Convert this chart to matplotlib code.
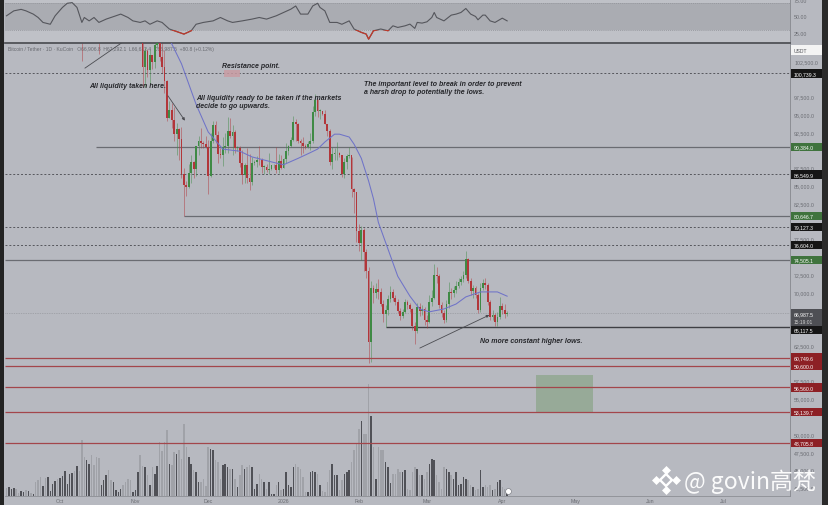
import numpy as np
import pandas as pd
import matplotlib
matplotlib.use("Agg")
import matplotlib.pyplot as plt
import matplotlib.dates as mdates
from matplotlib.patches import Rectangle
from matplotlib.transforms import blended_transform_factory as blend

# ---------------- DATA (prices in thousands of USDT) ----------------
first_day = "2025-09-09"
# closes start one day earlier (2025-09-08) so each candle opens at the previous close
closes = [
    112.1, 111.5, 113.9, 115.5, 116.1, 115.9, 115.3, 115.4, 116.8, 116.5, 117.1, 115.7,
    115.7, 115.3, 112.7, 112.0, 113.3, 109.0, 109.7, 109.7, 112.1, 114.4, 114.0,
    118.6, 120.6, 122.3, 122.4, 123.5, 124.7, 121.4, 123.3, 121.7, 113.2, 110.7, 115.2,
    115.3, 113.1, 110.8, 108.2, 106.5, 107.2, 108.6, 110.6, 108.4, 107.6, 110.1, 111.0,
    111.6, 114.5, 114.1, 112.9, 110.0, 108.3, 109.6,
    110.1, 110.6, 106.5, 101.6, 103.9, 101.3, 103.3, 102.3, 104.7, 106.0, 103.0, 101.6,
    99.7, 94.5, 95.6, 94.2, 92.2, 92.9, 91.5, 86.6, 85.1, 84.7, 86.8, 88.3, 87.3, 90.5,
    91.3, 90.9, 90.8, 90.4,
    86.3, 91.3, 93.5, 92.1, 89.4, 89.3, 90.4, 90.6, 92.7, 92.0, 92.5, 90.3, 90.3, 88.2,
    86.4, 87.8, 86.1, 85.5, 88.1, 88.3, 88.6, 88.5, 87.6, 87.6, 87.2, 87.3, 87.8, 87.8,
    87.1, 88.4, 87.5,
    88.7, 89.9, 90.6, 91.4, 93.9, 93.7, 91.3, 91.0, 90.5, 90.4, 90.8, 91.2, 95.3, 97.0,
    95.5, 95.5, 95.1, 93.6, 92.6, 88.3, 89.4, 89.5, 89.5, 89.2, 86.6, 88.3, 89.1, 89.2,
    84.5, 84.1, 78.6,
    76.9, 78.7, 75.6, 73.0, 62.9, 70.5, 69.8, 70.4, 70.0, 68.3, 66.9, 67.4, 69.0, 70.0,
    69.2, 68.6, 67.3, 66.6, 67.2, 68.6, 68.1, 67.6, 65.2, 64.5, 67.9, 67.3, 67.6, 66.0,
    65.8, 68.6, 69.2, 72.4, 72.2, 68.2, 67.0, 66.0, 68.3, 70.0, 69.8, 70.3, 70.8, 71.4,
    71.8, 72.4, 74.6, 71.6, 70.1, 70.5, 69.6, 67.4, 70.6, 71.3, 71.0, 68.6, 66.5, 66.8,
    65.7, 66.5, 68.0,
    67.5, 66.9068, 66.9875,
]
highs = [
    113.2, 114.3, 115.6, 116.3, 116.7, 116.1, 116.8, 117.0, 117.3, 117.9, 117.5, 116.2,
    116.0, 115.5, 113.3, 113.8, 113.6, 110.0, 109.8, 112.4, 114.5, 114.8,
    118.7, 121.0, 123.9, 122.9, 125.7, 126.2, 125.1, 124.1, 123.8, 122.5, 113.4, 115.9,
    116.0, 115.0, 113.6, 111.9, 109.0, 107.5, 109.4, 111.7, 114.0, 109.1, 111.3, 112.0,
    111.9, 115.2, 116.4, 116.0, 113.6, 111.5, 111.2,
    110.6, 111.2, 110.8, 106.6, 104.5, 104.2, 104.0, 103.4, 105.0, 106.7, 107.5, 105.3,
    104.1, 99.8, 96.8, 96.6, 96.0, 93.8, 93.1, 93.2, 87.5, 85.6, 88.0, 89.2, 88.4, 90.6,
    91.9, 93.1, 91.2, 92.0,
    91.4, 92.3, 94.1, 94.0, 92.7, 90.3, 91.8, 92.3, 94.6, 94.5, 93.5, 92.8, 90.6, 90.5,
    90.0, 88.1, 90.3, 89.4, 89.0, 88.5, 89.1, 90.5, 88.9, 87.9, 88.0, 89.5, 87.9, 88.0,
    90.4, 89.4, 89.2,
    88.8, 90.9, 90.7, 91.8, 94.8, 94.4, 93.8, 91.5, 91.8, 90.8, 91.2, 92.4, 96.2, 97.9,
    97.2, 95.8, 95.5, 95.6, 93.6, 92.9, 90.4, 90.3, 91.1, 89.7, 89.2, 88.8, 89.4, 90.4,
    89.0, 84.6, 84.0,
    79.5, 79.3, 79.0, 76.0, 73.5, 71.6, 71.0, 71.3, 71.8, 70.5, 68.8, 68.2, 69.5, 70.8,
    70.4, 69.6, 69.0, 67.8, 67.6, 69.0, 68.9, 68.4, 67.8, 65.8, 68.5, 68.4, 68.2, 67.9,
    66.8, 69.6, 70.2, 73.9, 73.5, 72.5, 68.6, 67.4, 68.8, 71.4, 70.6, 70.8, 71.5, 71.9,
    72.3, 73.0, 75.8, 74.8, 71.9, 71.0, 70.9, 69.8, 71.2, 71.8, 71.9, 71.2, 68.9, 67.4,
    67.0, 67.2, 69.3,
    68.5, 68.3, 67.2921,
]
lows = [
    110.8, 110.9, 113.5, 114.8, 115.5, 115.1, 114.9, 114.8, 115.1, 116.3, 115.3, 115.4,
    115.0, 112.0, 111.5, 111.1, 108.6, 108.6, 109.0, 109.6, 111.8, 112.7,
    114.0, 118.0, 119.3, 121.6, 122.2, 123.1, 120.6, 121.1, 119.7, 102.5, 109.6, 109.7,
    113.9, 110.1, 110.2, 107.4, 103.5, 106.3, 106.1, 107.5, 107.5, 106.9, 107.5, 109.7,
    110.5, 111.2, 113.8, 112.3, 109.4, 106.3, 108.1,
    109.4, 109.2, 105.3, 98.9, 98.9, 100.3, 99.3, 101.4, 101.5, 104.3, 102.5, 100.8,
    98.0, 94.0, 94.5, 93.0, 91.2, 89.3, 88.6, 86.1, 80.6467, 83.5, 84.6, 85.3, 86.1, 86.3,
    89.2, 90.2, 90.3, 90.3,
    83.8, 86.2, 91.0, 90.9, 88.1, 88.9, 87.7, 89.6, 89.5, 91.6, 89.3, 89.5, 89.8, 87.6,
    85.2, 85.3, 85.3, 84.4, 85.1, 87.8, 87.6, 87.9, 86.7, 86.6, 86.9, 86.6, 87.2, 87.4,
    86.7, 86.8, 87.3,
    87.4, 88.2, 89.3, 90.4, 91.3, 91.2, 90.9, 89.3, 89.5, 90.1, 90.2, 90.0, 91.0, 94.8,
    94.6, 94.3, 94.9, 93.6, 91.9, 87.9, 87.3, 88.5, 88.5, 89.0, 86.2, 86.1, 87.3, 88.9,
    83.4, 81.1, 77.0,
    75.7, 74.5, 73.0, 72.0, 60.0, 60.2, 68.5, 69.2, 69.0, 68.0, 65.8, 65.1, 66.8, 68.6,
    68.7, 68.2, 67.0, 66.1, 66.3, 67.0, 67.6, 67.2, 64.6, 62.7, 64.2, 66.6, 66.8, 65.3,
    64.9, 65.6, 68.0, 69.0, 71.2, 67.8, 66.5, 65.6, 65.8, 67.8, 69.0, 69.3, 69.9, 70.5,
    71.0, 71.4, 72.0, 71.2, 69.6, 69.2, 69.2, 67.0, 67.2, 70.3, 70.4, 68.2, 66.0, 66.1,
    65.2, 65.2, 66.2,
    66.9, 66.4, 66.6,
]
volumes = [
    8, 9, 7, 8, 7, 3, 5, 4, 6, 5, 3, 2, 14, 16, 19, 10, 18, 19, 5, 12, 15, 17,
    18, 20, 25, 12, 22, 23, 25, 30, 25, 56, 39, 36, 32, 41, 31, 39, 38, 11, 16, 21,
    26, 16, 14, 6, 4, 7, 11, 14, 17, 16, 4,
    6, 24, 41, 30, 29, 21, 11, 29, 22, 30, 54, 45, 54, 66, 32, 31, 44, 42, 46, 37,
    72, 49, 39, 32, 26, 24, 14, 14, 17, 10,
    49, 47, 46, 36, 34, 17, 31, 32, 29, 27, 27, 17, 9, 21, 31, 27, 29, 31, 29, 7,
    12, 22, 17, 14, 7, 14, 2, 2, 11, 14, 6,
    7, 24, 11, 9, 29, 32, 29, 27, 19, 4, 4, 24, 25, 24, 22, 11, 5, 4, 14, 26, 32,
    21, 21, 6, 16, 22, 24, 26, 34, 46, 52,
    67, 75, 62, 62, 112, 80, 49, 17, 49, 46, 46, 34, 29, 13, 22, 22, 27, 24, 24, 26,
    7, 6, 24, 29, 27, 21, 21, 17,
    24, 32, 37, 36, 21, 14, 7, 29, 27, 24, 21, 17, 24, 11, 12, 19, 17, 16, 11, 9,
    6, 7, 26, 9, 11, 9, 11, 6, 7, 14, 16,
    9, 7, 6,
]
ma_dates = ["2025-11-13", "2025-11-20", "2025-11-26", "2025-12-01", "2025-12-07",
            "2025-12-14", "2025-12-19", "2025-12-27", "2026-01-01", "2026-01-07",
            "2026-01-12", "2026-01-15", "2026-01-18", "2026-01-22", "2026-01-24",
            "2026-01-28", "2026-01-30", "2026-02-02", "2026-02-05", "2026-02-07",
            "2026-02-09", "2026-02-13", "2026-02-17", "2026-02-22", "2026-02-26",
            "2026-03-02", "2026-03-08", "2026-03-13", "2026-03-17", "2026-03-23",
            "2026-03-30", "2026-04-03"]
ma_vals = [107.0, 102.1, 96.4, 92.5, 90.1, 89.8, 89.0, 88.3, 87.9, 88.8, 89.6, 90.1,
           91.1, 92.2, 92.2, 91.8, 90.8, 88.8, 85.6, 83.1, 79.8, 76.0, 72.2, 69.4,
           67.6, 67.2, 67.6, 68.3, 69.3, 70.0, 70.0, 69.4]
rsi_dates = ["2025-09-09", "2025-09-12", "2025-09-15", "2025-09-17", "2025-09-20",
             "2025-09-22", "2025-09-24", "2025-09-27", "2025-09-29", "2025-10-02",
             "2025-10-04", "2025-10-06", "2025-10-08", "2025-10-10", "2025-10-11",
             "2025-10-13", "2025-10-15", "2025-10-17", "2025-10-20", "2025-10-24",
             "2025-10-26", "2025-10-29", "2025-10-31", "2025-11-03", "2025-11-05",
             "2025-11-07", "2025-11-10", "2025-11-12", "2025-11-15", "2025-11-19",
             "2025-11-21", "2025-11-24", "2025-11-26", "2025-11-29", "2025-12-03",
             "2025-12-06", "2025-12-09", "2025-12-11", "2025-12-15", "2025-12-19",
             "2025-12-22", "2025-12-25", "2025-12-29", "2026-01-01", "2026-01-04",
             "2026-01-06", "2026-01-08", "2026-01-11", "2026-01-13", "2026-01-15",
             "2026-01-16", "2026-01-18", "2026-01-20", "2026-01-23", "2026-01-25",
             "2026-01-28", "2026-01-30", "2026-02-02", "2026-02-04", "2026-02-05",
             "2026-02-07", "2026-02-10", "2026-02-13", "2026-02-15", "2026-02-17",
             "2026-02-20", "2026-02-22", "2026-02-24", "2026-02-25", "2026-02-27",
             "2026-03-01", "2026-03-03", "2026-03-04", "2026-03-05", "2026-03-08",
             "2026-03-11", "2026-03-13", "2026-03-15", "2026-03-17", "2026-03-19",
             "2026-03-21", "2026-03-22", "2026-03-24", "2026-03-25", "2026-03-27",
             "2026-03-29", "2026-04-01", "2026-04-03"]
rsi_vals = [50.5, 57.8, 60.0, 57.8, 53.0, 48.0, 40.7, 38.0, 50.5, 62.8, 69.0, 70.0,
            62.8, 40.7, 48.0, 43.0, 48.0, 40.7, 45.6, 50.5, 53.0, 48.0, 43.0, 40.7,
            43.0, 38.0, 43.0, 40.7, 31.0, 26.0, 23.5, 28.4, 38.0, 40.7, 43.0, 48.0,
            43.0, 40.7, 43.0, 45.6, 48.0, 45.6, 50.5, 55.4, 60.3, 65.0, 53.0, 53.0,
            65.0, 69.0, 62.8, 57.8, 40.7, 40.7, 38.0, 43.0, 31.0, 26.0, 23.5, 16.0,
            28.4, 31.0, 28.4, 35.7, 33.3,
            35.7, 38.2, 31.9, 40.7, 39.7,
            41.6, 48.0, 55.4, 48.0, 43.0,
            51.5, 53.0, 55.4, 61.3, 53.0,
            49.5, 44.6, 51.5, 51.5, 43.0,
            40.7, 47.0, 43.0]

level_prices = [100739.3, 90384.0, 86549.9, 80646.7, 79127.3, 76604.0, 74505.1,
                66987.5, 65117.5, 60749.6, 59600.0, 56560.0, 53139.7, 48705.8]
level_styles = ["dash", "solid", "dash", "solid", "dash", "dash", "solid",
                "dot", "black", "red", "red", "red", "red", "red"]
level_starts = {90384.0: "2025-10-16", 80646.7: "2025-11-21", 65117.5: "2026-02-12"}
level_box = ["k", "g", "k", "g", "k", "k", "g", "grey", "k", "r", "r", "r", "r", "r"]

month_starts = ["2025-10-01", "2025-11-01", "2025-12-01", "2026-01-01", "2026-02-01",
                "2026-03-01", "2026-04-01", "2026-05-01", "2026-06-01", "2026-07-01"]
month_labels = ["Oct", "Nov", "Dec", "2026", "Feb", "Mar", "Apr", "May", "Jun", "Jul"]

# ---------------- STYLE ----------------
BG = "#b7b9c0"
UP = "#3f8a45"
DOWN = "#b2363a"
TXT = "#6a6c72"
W, H = 829, 506


def fr(x0, y0, x1, y1):
    return [x0 / W, 1 - y1 / H, (x1 - x0) / W, (y1 - y0) / H]


fig = plt.figure(figsize=(8.29, 5.06), dpi=100)
fig.patch.set_facecolor(BG)

ax_rsi = fig.add_axes(fr(5, 0, 790, 43))
ax_vol = fig.add_axes(fr(5, 44, 790, 497))
ax = fig.add_axes(fr(5, 44, 790, 497))
ax.patch.set_visible(False)
ax_vol.patch.set_facecolor(BG)

oct1 = mdates.date2num(pd.Timestamp("2025-10-01"))
xlim = (oct1 - 22.63, oct1 + 300.4)
ylim = (41280, 105030)

n = min(len(highs), len(lows), len(closes) - 1, len(volumes))
dates = pd.date_range(first_day, periods=n, freq="D")
x = mdates.date2num(dates)
c_arr = np.array(closes[1:n + 1]) * 1000
o_arr = np.array(closes[:n]) * 1000
h_arr = np.array(highs[:n]) * 1000
l_arr = np.array(lows[:n]) * 1000
up = c_arr >= o_arr
cols = np.where(up, UP, DOWN)

# ---- volume ----
vcols = np.where(up, "#505157", "#a0a2a8")
ax_vol.bar(x, volumes[:n], width=0.62, color=vcols, linewidth=0)
ax_vol.set_xlim(*xlim)
ax_vol.set_ylim(0, max(volumes) * 453 / 112)
ax_vol.axis("off")
ax_vol.patch.set_visible(True)

# ---- candles ----
ax.vlines(x, l_arr, h_arr, colors=cols, linewidth=0.55, alpha=0.6, zorder=2)
body_lo = np.minimum(o_arr, c_arr)
body_h = np.maximum(np.abs(c_arr - o_arr), 60)
ax.bar(x, body_h, bottom=body_lo, width=0.72, color=cols, linewidth=0, zorder=3)

# moving average
ax.plot(mdates.date2num(pd.to_datetime(ma_dates)), np.array(ma_vals) * 1000,
        color="#6f73c8", lw=0.75, zorder=4)

# ---- horizontal levels ----
for p, st in zip(level_prices, level_styles):
    xs = mdates.date2num(pd.Timestamp(level_starts[p])) if p in level_starts else xlim[0]
    if st == "dash":
        ax.hlines(p, xs, xlim[1], colors="#55565c", lw=0.7, linestyles=(0, (2, 2)), zorder=1.5)
    elif st == "solid":
        ax.hlines(p, xs, xlim[1], colors="#6a6c72", lw=0.9, zorder=1.5)
    elif st == "dot":
        ax.hlines(p, xs, xlim[1], colors="#8a8c92", lw=0.5, linestyles=(0, (1, 1.5)), zorder=1.5)
    elif st == "black":
        ax.hlines(p, xs, xlim[1], colors="#3e3f44", lw=1.0, zorder=1.5)
    else:
        ax.hlines(p, xs, xlim[1], colors="#a3464b", lw=0.9, zorder=5)

# zones
d = lambda s: mdates.date2num(pd.Timestamp(s))
ax.add_patch(Rectangle((d("2025-12-07 12:00"), 100230), d("2025-12-14") - d("2025-12-07 12:00"),
                       1000, facecolor="#c99ca3", edgecolor="none", alpha=0.85, zorder=1.6))
ax.add_patch(Rectangle((d("2026-04-14 22:00"), 53139.7), d("2026-05-08 07:00") - d("2026-04-14 22:00"),
                       58300 - 53139.7, facecolor="#7d9f78", edgecolor="none", alpha=0.55, zorder=1.6))

# drawn lines / arrows
ax.plot([d("2025-10-11 07:00"), d("2025-10-27")], [101500, 105200], color="#4b4c51", lw=0.6, zorder=4)
ax.annotate("", xy=(d("2025-11-21 10:00"), 94100), xytext=(d("2025-11-14 10:00"), 97600),
            arrowprops=dict(arrowstyle="-|>", color="#4b4c51", lw=0.6, mutation_scale=4,
                            shrinkA=0, shrinkB=0), zorder=6)
ax.annotate("", xy=(d("2026-03-26 16:00"), 66750), xytext=(d("2026-02-26 02:00"), 62100),
            arrowprops=dict(arrowstyle="-|>", color="#4b4c51", lw=0.6, mutation_scale=4,
                            shrinkA=0, shrinkB=0), zorder=6)

ax.set_xlim(*xlim)
ax.set_ylim(*ylim)
kpp = (ylim[1] - ylim[0]) / 453.0
yt = np.arange(42500, 105000, 2500)
box_centres = [p for p in level_prices if p not in (66987.5, 65117.5)] + [64640]
grey_span = (65200, 67700)


def tick_text(v):
    if any(abs(v - bc) < 6.0 * kpp for bc in box_centres):
        return ""
    if grey_span[0] <= v <= grey_span[1]:
        return ""
    return f"{v:,.1f}"


ax.set_yticks(yt)
ax.set_yticklabels([tick_text(v) for v in yt])
ax.yaxis.tick_right()
ax.tick_params(axis="y", length=0, pad=3, labelsize=3.8, labelcolor=TXT)
ax.set_xticks(mdates.date2num(pd.to_datetime(month_starts)))
ax.set_xticklabels(month_labels)
ax.tick_params(axis="x", length=0, pad=1.2, labelsize=3.8, labelcolor=TXT)
for lab in ax.get_xticklabels() + ax.get_yticklabels():
    lab.set_family("Liberation Sans")
ax.spines["left"].set_visible(False)
ax.spines["top"].set_color("#505257")
ax.spines["top"].set_linewidth(1.3)
ax.spines["right"].set_color("#8c8e94")
ax.spines["right"].set_linewidth(0.7)
ax.spines["bottom"].set_color("#8c8e94")
ax.spines["bottom"].set_linewidth(0.6)

# ---- price labels on the right ----
bt = blend(ax.transAxes, ax.transData)
box_col = {"k": "#151515", "g": "#3f733d", "r": "#8d2025", "grey": "#4e4f54"}
bx0, bw = 1 + 1.5 / 785, 31 / 785
for p, kind in zip(level_prices, level_box):
    if kind == "grey":
        top = p + 4 * kpp
        ax.add_patch(Rectangle((bx0, top - 17 * kpp), bw, 17 * kpp, transform=bt,
                               facecolor=box_col[kind], lw=0, clip_on=False, zorder=7))
        ax.text(bx0 + 2 / 785, p, f"{p:,.1f}", transform=bt, color="white", fontsize=3.7,
                va="center", ha="left", family="Liberation Sans", clip_on=False, zorder=8)
        ax.text(bx0 + 2 / 785, p - 8 * kpp, "15:19:01", transform=bt, color="#d0d0d0",
                fontsize=3.5, va="center", ha="left", family="Liberation Sans", clip_on=False, zorder=8)
        continue
    yc = p - 3.4 * kpp if p == 65117.5 else p
    ax.add_patch(Rectangle((bx0, yc - 4.2 * kpp), bw, 8.4 * kpp, transform=bt,
                           facecolor=box_col[kind], lw=0, clip_on=False, zorder=7))
    ax.text(bx0 + 2 / 785, yc, f"{p:,.1f}", transform=bt, color="white", fontsize=3.7,
            va="center", ha="left", family="Liberation Sans", clip_on=False, zorder=8)
# USDT box
ax.add_patch(Rectangle((bx0, 102500 + 6 * kpp), bw, 9.5 * kpp, transform=bt,
                       facecolor="#f4f4f4", lw=0, clip_on=False, zorder=7))
ax.text(bx0 + 2 / 785, 102500 + 10.6 * kpp, "USDT", transform=bt, color="#55565b",
        fontsize=3.6, va="center", ha="left", family="Liberation Sans", clip_on=False, zorder=8)

# header legend text
ax.text(8 / W, 1 - 50 / H, "Bitcoin / Tether · 1D · KuCoin   O66,906.8  H67,292.1  L66,612.4  "
        "C66,987.5  +80.8 (+0.12%)", transform=fig.transFigure, fontsize=3.6, color="#686a70",
        va="center", ha="left", family="Liberation Sans", zorder=0.5)

# ---- RSI pane ----
ax_rsi.set_facecolor("#bfc1c7")
ax_rsi.axhspan(30, 70, color="#aaacb2", lw=0)
for lv in (30, 70):
    ax_rsi.axhline(lv, color="#8e9096", lw=0.5, ls=(0, (1.5, 1.5)))
rx = mdates.date2num(pd.to_datetime(rsi_dates))
ax_rsi.plot(rx, rsi_vals, color="#55565c", lw=0.8)
red_line, = ax_rsi.plot(rx, rsi_vals, color="#c0392b", lw=0.9)
red_line.set_clip_path(Rectangle((xlim[0], 0), xlim[1] - xlim[0], 30, transform=ax_rsi.transData))
ax_rsi.set_xlim(*xlim)
ax_rsi.set_ylim(11.8, 75.3)
ax_rsi.set_xticks([])
ax_rsi.yaxis.tick_right()
ax_rsi.set_yticks([25, 50, 74])
ax_rsi.set_yticklabels(["25.00", "50.00", "75.00"])
ax_rsi.tick_params(axis="y", length=0, pad=3, labelsize=3.8, labelcolor=TXT)
for lab in ax_rsi.get_yticklabels():
    lab.set_family("Liberation Sans")
for s in ["left", "top", "bottom"]:
    ax_rsi.spines[s].set_visible(False)
ax_rsi.spines["right"].set_color("#8c8e94")
ax_rsi.spines["right"].set_linewidth(0.7)

# ---- annotations ----
ann = dict(fontsize=5.0, style="italic", weight="bold", family="Liberation Sans",
           color="#26272b", va="center", ha="left", zorder=10)
fig.text(89 / W, 1 - 86 / H, "All liquidity taken here.", **ann)
fig.text(222 / W, 1 - 67 / H, "Resistance point.", **ann)
fig.text(196 / W, 1 - 99 / H, "All liquidity ready to be taken if the markets", **ann)
fig.text(196 / W, 1 - 107 / H, "decide to go upwards.", **ann)
fig.text(364 / W, 1 - 85 / H, "The important level to break in order to prevent", **ann)
fig.text(364 / W, 1 - 92 / H, "a harsh drop to potentially the lows.", **ann)
fig.text(480 / W, 1 - 342 / H, "No more constant higher lows.", **ann)

# side strips
fig.patches.append(Rectangle((0, 0), 4 / W, 1, transform=fig.transFigure,
                             facecolor="#232323", lw=0, zorder=0))
fig.patches.append(Rectangle((822 / W, 0), 7 / W, 1, transform=fig.transFigure,
                             facecolor="#2a2a2a", lw=0, zorder=0))

# small event icon
ax.plot([508 / W], [1 - 492 / H], marker="o", ms=4.2, mfc="white", mec="#7d7f85",
        mew=0.5, transform=fig.transFigure, clip_on=False, zorder=9)

# watermark
wm = dict(transform=fig.transFigure, clip_on=False, zorder=11, ls="none")
cx, cy = 666 / W, 1 - 481 / H
ax.plot([cx], [cy], marker="D", ms=6.5, mfc="none", mec="white", mew=1.7, **wm)
for dx, dy in [(-10, 0), (10, 0), (0, -10), (0, 10)]:
    ax.plot([cx + dx / W], [cy + dy / H], marker="D", ms=3.8, mfc="white", mec="white", mew=0.5, **wm)
fig.text(684 / W, 1 - 482 / H, "@ govin高梵", fontsize=16.5, color="white", alpha=0.95,
         family=["Noto Sans CJK SC", "DejaVu Sans"], va="center", ha="left", zorder=11)

fig.savefig("out.png", dpi=100, facecolor=fig.get_facecolor())
